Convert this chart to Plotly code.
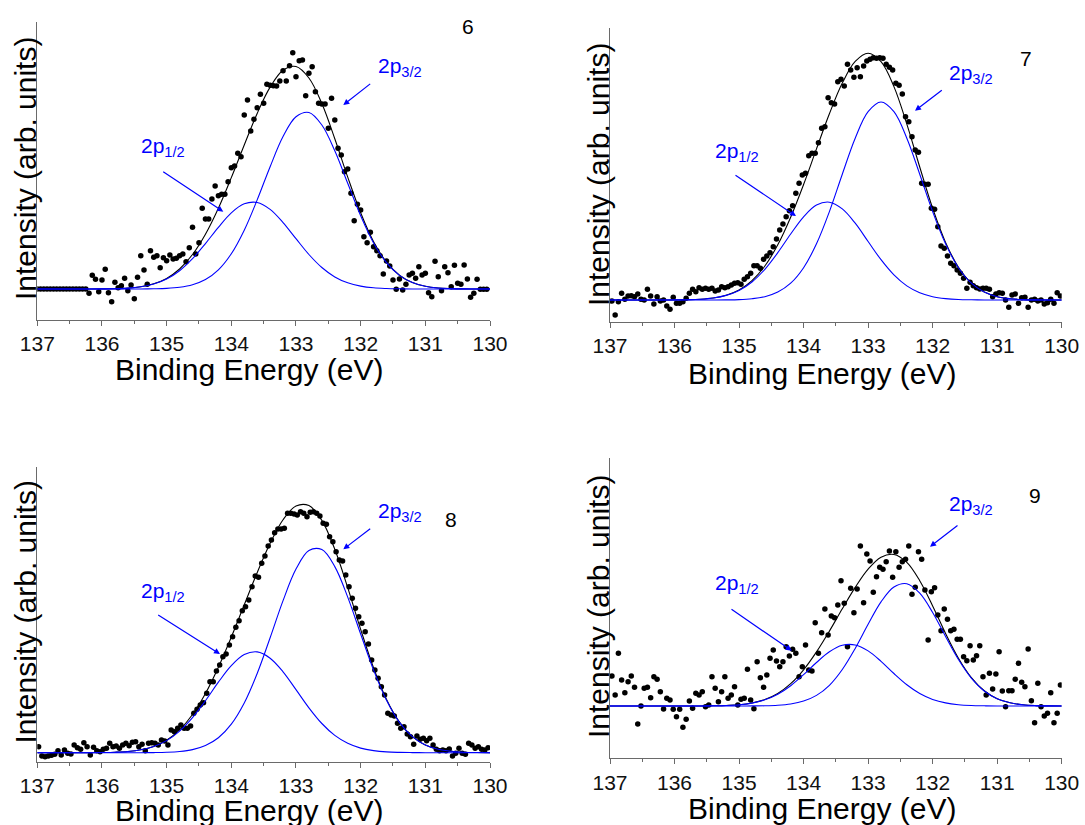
import plotly.graph_objects as go

W, H = 1085, 825
FONT = "Liberation Sans, Arial, sans-serif"
AX = "#6a6a6a"
BLUE = "#0000ff"

# ---------------- data (intensity in arbitrary units, baseline = 0) ----------------
fit_energy = [137.0, 136.8, 136.6, 136.4, 136.2, 136.0, 135.8, 135.6, 135.4, 135.2,
              135.0, 134.8, 134.6, 134.4, 134.2, 134.0, 133.8, 133.6, 133.4, 133.2,
              133.0, 132.8, 132.6, 132.4, 132.2, 132.0, 131.8, 131.6, 131.4, 131.2,
              131.0, 130.8, 130.6, 130.4, 130.2, 130.0]
dot_step = 0.05

# Panel 6
p1_dot_start = 137.0
p1_dots = [0] * 16 + [
    -4.3, 13.7, 9.7, -2.7, 9, 19.7, -3.7, -12.7, 6.7, 1.3,
    3.3, 10.7, -1.7, 4, -9.7, 11.7, 33.3, 19, 4.7, 38.3,
    31.7, 33.3, 21.3, 31.3, 28.3, 34, 30, 30.7, 33.3, 35,
    27.3, 41.3, 61.7, 35, 46.3, 80.7, 70, 70, 90, 103,
    93.3, 94.7, 94.7, 107.3, 121.3, 123, 135.7, 132.3, 174, 189,
    158, 169.7, 181.3, 194.7, 185.7, 204.7, 203.7, 203.3, 203, 208,
    218.3, 208, 223.3, 236.3, 212.3, 228.3, 229, 193.3, 215.7, 222.3,
    197.3, 185.7, 185, 185, 160.7, 190.7, 169, 140.7, 134, 117.3,
    120, 95.7, 68.3, 84.7, 79, 52.3, 46.3, 56.7, 42.3, 38.3,
    33.3, 15, 28, 23, 9, -0.3, 10, -1, 4.7, 14,
    15.7, 10.7, 22.3, 14, 15.7, -3.7, -7.7, 27.7, 12.3, -1.7,
    22.3, 16.3, 2.3, 23.7, 5.7, 4.7, 24, 10, -8.3, -4.3,
    9.7, -0.3, -0.3, -0.3]
p1_p12 = [0, 0, 0, 0, 0, 0.1, 0.3, 0.9, 2.3, 5.0, 10.0, 18.3, 30.3, 45.4, 61.7, 76.2, 85.2, 86.5,
          79.6, 66.4, 50.3, 34.5, 21.5, 12.1, 6.2, 2.9, 1.2, 0.5, 0.2, 0, 0, 0, 0, 0, 0, 0]
p1_p32 = [0, 0, 0, 0, 0, 0, 0, 0, 0, 0.2, 0.6, 1.7, 4.2, 9.4, 19.1, 35.2, 58.8, 89.1,
          122.3, 152.4, 172.2, 176.5, 164.0, 138.2, 105.7, 73.3, 46.1, 26.3, 13.6, 6.4, 2.7, 1.0, 0.4, 0.1, 0, 0]
p1_total = [0, 0, 0, 0, 0, 0.1, 0.3, 0.9, 2.3, 5.2, 10.6, 20.0, 34.5, 54.8, 80.8, 111.4, 144.0, 175.6,
            201.9, 218.8, 222.5, 211.0, 185.5, 150.3, 111.9, 76.2, 47.3, 26.8, 13.8, 6.4, 2.7, 1.0, 0.4, 0.1, 0, 0]

# Panel 7
p2_dot_start = 136.97
p2_dots = [
    -1, -15, -1.7, 6.7, 0.7, 4, 4.3, 3.3, 6, 0.7,
    0, 10.7, 4, -4, 3.3, -1, 0, -6, -9.3, 2.7,
    -3.3, -3.3, -1.7, 1.7, 6.7, 10.7, 8.3, 12.3, 10.7, 11.7,
    10.7, 11.7, 9, 10, 13.3, 12.3, 13.3, 15, 16.7, 17.3,
    15.7, 20.7, 23.3, 26.7, 34.3, 34.3, 31.7, 40.7, 44, 47.3,
    53.3, 61, 70, 76, 83.3, 89.3, 94.3, 106.7, 116.7, 125,
    126.7, 144.3, 146.7, 146.7, 157.3, 171.7, 173.3, 202.3, 197.3, 196,
    218.3, 220.7, 214, 235.7, 230, 222.7, 232.3, 223.3, 234, 239,
    240.7, 242.3, 241.7, 242.3, 241.7, 235.7, 232.7, 230, 216.7, 214.7,
    206, 183.3, 178.3, 163.3, 150, 147.7, 116.7, 115.7, 115.7, 91.7,
    90.7, 73.3, 54, 51.7, 44, 36.7, 34.3, 30, 26.7, 21.7,
    11.7, 17.7, 14.3, 12.3, 11, 11.7, 11.7, 10.7, 3.3, 6,
    7.3, 6.7, 0, -7.3, 5, 6, -3.3, 2.3, 2.7, -7.3,
    0, 0.7, -1, 0, -4, -2.7, 0.7, -3.3, 7.3, 4]
p2_p12 = [0, 0, 0, 0, 0, 0.1, 0.3, 0.8, 2.0, 4.6, 9.5, 18.0, 30.7, 47.3, 66.0, 83.2, 94.9, 97.8,
          91.1, 76.8, 58.5, 40.3, 25.1, 14.1, 7.2, 3.3, 1.4, 0.5, 0.2, 0, 0, 0, 0, 0, 0, 0]
p2_p32 = [0, 0, 0, 0, 0, 0, 0, 0, 0, 0.1, 0.4, 1.3, 3.3, 7.9, 16.8, 32.3, 56.2, 88.4,
          125.8, 161.8, 188.3, 198.0, 188.3, 161.8, 125.8, 88.4, 56.2, 32.3, 16.8, 7.9, 3.3, 1.3, 0.4, 0.1, 0, 0]
p2_total = [0, 0, 0, 0, 0, 0.1, 0.3, 0.8, 2.0, 4.7, 9.9, 19.3, 34.0, 55.2, 82.8, 115.5, 151.1, 186.2,
            216.9, 238.6, 246.8, 238.3, 213.4, 175.9, 133.0, 91.7, 57.6, 32.8, 17.0, 7.9, 3.3, 1.3, 0.4, 0.1, 0, 0]

# Panel 8
p3_dot_start = 136.98
p3_dots = [
    6, -3.3, -4, -3.3, -2.6, -1.6, 2, -2.3, 2.7, -0.6,
    -1.3, 7.7, 5, 3.4, 10, 6, -2.3, 5.4, 2, 1,
    3.4, 4.4, 9.4, 6, 6.7, 4.4, 7.7, 9.4, 7, 10.4,
    11, 6, 8.4, 2, 9.4, 10, 9.4, 7.7, 12.7, 11.7,
    7.7, 22.7, 21, 24.4, 27.7, 24.4, 24.4, 26.7, 39.4, 43.4,
    47.7, 50, 59.4, 71, 71, 81.7, 87.7, 96, 98.7, 107.7,
    116, 125.4, 132, 142, 146, 152.7, 166, 176.7, 175.4, 189.4,
    196.7, 206.7, 212.7, 220, 223.7, 223.7, 224.4, 239.4, 239.4, 238.7,
    237.7, 241, 239.4, 236, 240.4, 241, 239.4, 236.7, 229.4, 228.4,
    216, 211, 201, 192.7, 191.7, 177.7, 166, 154.4, 144.4, 136,
    129.4, 121, 108.7, 92.7, 82.7, 74.4, 66, 57.7, 39.4, 37.7,
    36.7, 29.4, 24.4, 26, 18.7, 16, 8.4, 16.7, 13.4, 14.4,
    12, 14.4, 7.7, 3.4, 2, 2.7, 2, 3.7, -3.3, -0.6,
    4.4, -0.6, -1.6, 9.4, 7.7, 4.4, 6, 3.4, 2.7, 5]
p3_p12 = [0, 0, 0, 0, 0, 0.2, 0.5, 1.2, 2.9, 6.2, 12.1, 21.6, 35.1, 52.0, 70.5, 87.0, 98.1, 100.8,
          94.5, 80.9, 63.1, 44.9, 29.2, 17.3, 9.4, 4.6, 2.1, 0.8, 0.3, 0.1, 0, 0, 0, 0, 0, 0]
p3_p32 = [0, 0, 0, 0, 0, 0, 0, 0, 0, 0.1, 0.4, 1.2, 3.1, 7.2, 15.0, 28.6, 49.8, 79.2,
          114.9, 152.1, 183.6, 202.2, 203.1, 186.1, 155.6, 118.7, 82.6, 52.4, 30.3, 16.0, 7.7, 3.4, 1.4, 0.5, 0.2, 0]
p3_total = [0, 0, 0, 0, 0, 0.2, 0.5, 1.2, 2.9, 6.3, 12.5, 22.8, 38.2, 59.2, 85.5, 115.6, 147.9, 180.0,
            209.4, 233.0, 246.7, 247.1, 232.3, 203.4, 165.0, 123.3, 84.7, 53.2, 30.6, 16.1, 7.7, 3.4, 1.4, 0.5, 0.2, 0]

# Panel 9
p4_dot_start = 136.97
p4_dots = [
    30, 11, 52.7, 26, 13.3, 24.3, 30, 18.7, -18, 0,
    17.7, 18.7, 8.3, 29.3, 26.7, 14.3, -3, 7.7, 6, -3.3,
    -10.7, -3.3, -21.3, -13.3, 5, -2.3, 12.7, 11, 14.3, -0.7,
    1, 29.3, 17.7, 4.3, 14.3, 29.3, 7.7, 11, 19.3, 1,
    6.7, 7.7, 36.7, 6, -2.7, 44.3, 28.3, 18.7, 31, 47.7,
    56, 45, 39.3, 44.3, 59.3, 50, 56.7, 52.7, 29.3, 39.3,
    61, 36, 35, 83.3, 52.7, 73.3, 97, 71, 90, 88.3,
    101, 125.3, 102.7, 59.3, 117.7, 93.3, 117, 160, 103.3, 152,
    145, 113.7, 129.3, 138.7, 136.7, 144.3, 155, 128.7, 154.3, 138.7,
    144.3, 146.7, 160, 111.7, 118.7, 154.3, 146.7, 116, 66, 114.3,
    118.3, 91, 75.3, 97, 86.7, 75.3, 76.7, 66.7, 66.7, 49.3,
    45.3, 60.3, 46, 50.3, 60.3, 29.3, 11, 32.7, 17, 32,
    54.3, 15, -0.7, 15.3, 15.3, 26.7, 42.7, 23.7, 19.3, 57,
    5.3, -16.7, 22.7, -0.7, -10, -7.3, 13.3, -16.7, -7.3, 21]
p4_p12 = [0, 0, 0, 0, 0, 0, 0, 0, 0.2, 0.5, 1.2, 2.9, 6.2, 11.8, 20.3, 31.3, 43.5, 54.2,
          60.7, 61.0, 55.1, 44.7, 32.5, 21.3, 12.5, 6.6, 3.1, 1.3, 0.5, 0.2, 0, 0, 0, 0, 0, 0]
p4_p32 = [0, 0, 0, 0, 0, 0, 0, 0, 0, 0, 0, 0.1, 0.2, 0.7, 2.0, 4.9, 10.6, 20.7,
          36.5, 57.6, 81.7, 104.1, 119.0, 122.3, 112.8, 93.5, 69.5, 46.5, 27.9, 15.0, 7.3, 3.2, 1.2, 0.4, 0.1, 0]
p4_total = [0, 0, 0, 0, 0, 0, 0, 0, 0.2, 0.5, 1.2, 3.0, 6.4, 12.5, 22.3, 36.2, 54.1, 74.9,
            97.2, 118.6, 136.8, 148.8, 151.5, 143.6, 125.3, 100.1, 72.6, 47.8, 28.4, 15.2, 7.3, 3.2, 1.2, 0.4, 0.1, 0]

panel_labels = ["6", "7", "8", "9"]
x_tick_values = [137, 136, 135, 134, 133, 132, 131, 130]
x_tick_text = ["137", "136", "135", "134", "133", "132", "131", "130"]
x_title = "Binding Energy (eV)"
y_title = "Intensity (arb. units)"
label_12 = "2p<sub>1/2</sub>"
label_32 = "2p<sub>3/2</sub>"

# ---------------- layout constants (pixels) ----------------
def px(x):
    return x / W


def py(y):
    return 1 - y / H


panels = [
    dict(dots=p1_dots, start=p1_dot_start, total=p1_total, p12=p1_p12, p32=p1_p32,
         xpx=(37.3, 490), ypx=(21.7, 320), yr=(-31, 267.3),
         num=(468, 27), l32=(376, 67), l12=(139, 147),
         a32=((343.3, 105), (371.7, 82.7)), a12=((223.3, 211.7), (161.7, 170.7)),
         xt=(249, 369), yt=(25, 169)),
    dict(dots=p2_dots, start=p2_dot_start, total=p2_total, p12=p2_p12, p32=p2_p32,
         xpx=(610, 1061.7), ypx=(28, 321.7), yr=(-21.7, 272),
         num=(1026, 58), l32=(947, 73.7), l12=(712.7, 151.7),
         a32=((915, 110.7), (943.3, 89)), a12=((796, 216), (734, 174.3)),
         xt=(822, 373), yt=(598, 175)),
    dict(dots=p3_dots, start=p3_dot_start, total=p3_total, p12=p3_p12, p32=p3_p32,
         xpx=(37.3, 490), ypx=(466.7, 761.7), yr=(-9, 286),
         num=(451, 519), l32=(376, 511.7), l12=(139, 591.7),
         a32=((343.3, 549.3), (371.7, 527.7)), a12=((220, 654), (156.7, 614)),
         xt=(249, 810), yt=(25, 612.5)),
    dict(dots=p4_dots, start=p4_dot_start, total=p4_total, p12=p4_p12, p32=p4_p32,
         xpx=(610, 1061.7), ypx=(458, 758.3), yr=(-52.3, 248),
         num=(1035, 495), l32=(947, 505), l12=(712.7, 584.2),
         a32=((930, 546.7), (959, 524.3)), a12=((791.7, 650.7), (730, 608.3)),
         xt=(822, 808), yt=(598, 607)),
]

fig = go.Figure()
annotations = []
layout_axes = {}

for i, p in enumerate(panels, start=1):
    xa = "x" if i == 1 else f"x{i}"
    ya = "y" if i == 1 else f"y{i}"
    dot_x = [round(p["start"] - k * dot_step, 3) for k in range(len(p["dots"]))]
    fig.add_trace(go.Scatter(x=dot_x, y=p["dots"], mode="markers", xaxis=xa, yaxis=ya,
                             marker=dict(color="black", size=5.5), showlegend=False,
                             hoverinfo="skip"))
    fig.add_trace(go.Scatter(x=fit_energy, y=p["total"], mode="lines", xaxis=xa, yaxis=ya,
                             line=dict(color="black", width=1.1, shape="spline", smoothing=1.0),
                             showlegend=False, hoverinfo="skip"))
    for comp in (p["p12"], p["p32"]):
        fig.add_trace(go.Scatter(x=fit_energy, y=comp, mode="lines", xaxis=xa, yaxis=ya,
                                 line=dict(color=BLUE, width=1.1, shape="spline", smoothing=1.0),
                                 showlegend=False, hoverinfo="skip"))

    xkey = "xaxis" if i == 1 else f"xaxis{i}"
    ykey = "yaxis" if i == 1 else f"yaxis{i}"
    layout_axes[xkey] = dict(
        domain=[px(p["xpx"][0]), px(p["xpx"][1])], anchor=ya, range=[137, 130],
        automargin=False,
        tickmode="array", tickvals=x_tick_values, ticktext=x_tick_text,
        ticks="outside", ticklen=5, tickwidth=1.2, tickcolor=AX,
        minor=dict(ticks="outside", ticklen=3, tickwidth=1.2, tickcolor=AX,
                   tickmode="linear", tick0=130.5, dtick=1, showgrid=False),
        showline=True, linecolor=AX, linewidth=1.3, showgrid=False, zeroline=False,
        tickfont=dict(family=FONT, size=21, color="#111"), fixedrange=True)
    layout_axes[ykey] = dict(
        domain=[py(p["ypx"][1]), py(p["ypx"][0])], anchor=xa, range=list(p["yr"]),
        automargin=False,
        showline=True, linecolor=AX, linewidth=1.3, ticks="", showticklabels=False,
        showgrid=False, zeroline=False, fixedrange=True)

    annotations.append(dict(text=panel_labels[i - 1], x=px(p["num"][0]), y=py(p["num"][1]),
                            xref="paper", yref="paper", showarrow=False,
                            xanchor="center", yanchor="middle",
                            font=dict(family=FONT, size=21, color="black")))
    for lab, pos in ((label_32, p["l32"]), (label_12, p["l12"])):
        annotations.append(dict(text=lab, x=px(pos[0]), y=py(pos[1]), xref="paper", yref="paper",
                                showarrow=False, xanchor="left", yanchor="middle",
                                font=dict(family=FONT, size=21, color=BLUE)))
    for head, tail in (p["a32"], p["a12"]):
        annotations.append(dict(text="", x=px(head[0]), y=py(head[1]), xref="paper", yref="paper",
                                showarrow=True, axref="pixel", ayref="pixel",
                                ax=tail[0] - head[0], ay=tail[1] - head[1],
                                arrowhead=2, arrowsize=1.0, arrowwidth=1.2, arrowcolor=BLUE,
                                standoff=0, startstandoff=0))
    annotations.append(dict(text=x_title, x=px(p["xt"][0]), y=py(p["xt"][1]),
                            xref="paper", yref="paper", showarrow=False,
                            xanchor="center", yanchor="middle",
                            font=dict(family=FONT, size=30, color="black")))
    annotations.append(dict(text=y_title, x=px(p["yt"][0]), y=py(p["yt"][1]),
                            xref="paper", yref="paper", showarrow=False, textangle=-90,
                            xanchor="center", yanchor="middle",
                            font=dict(family=FONT, size=30, color="black")))

fig.update_layout(
    width=W, height=H, autosize=False,
    margin=dict(l=0, r=0, t=0, b=0, pad=0, autoexpand=False),
    paper_bgcolor="white", plot_bgcolor="white",
    annotations=annotations, showlegend=False,
    **layout_axes)

fig.write_html("out.html", config={"displayModeBar": False})
